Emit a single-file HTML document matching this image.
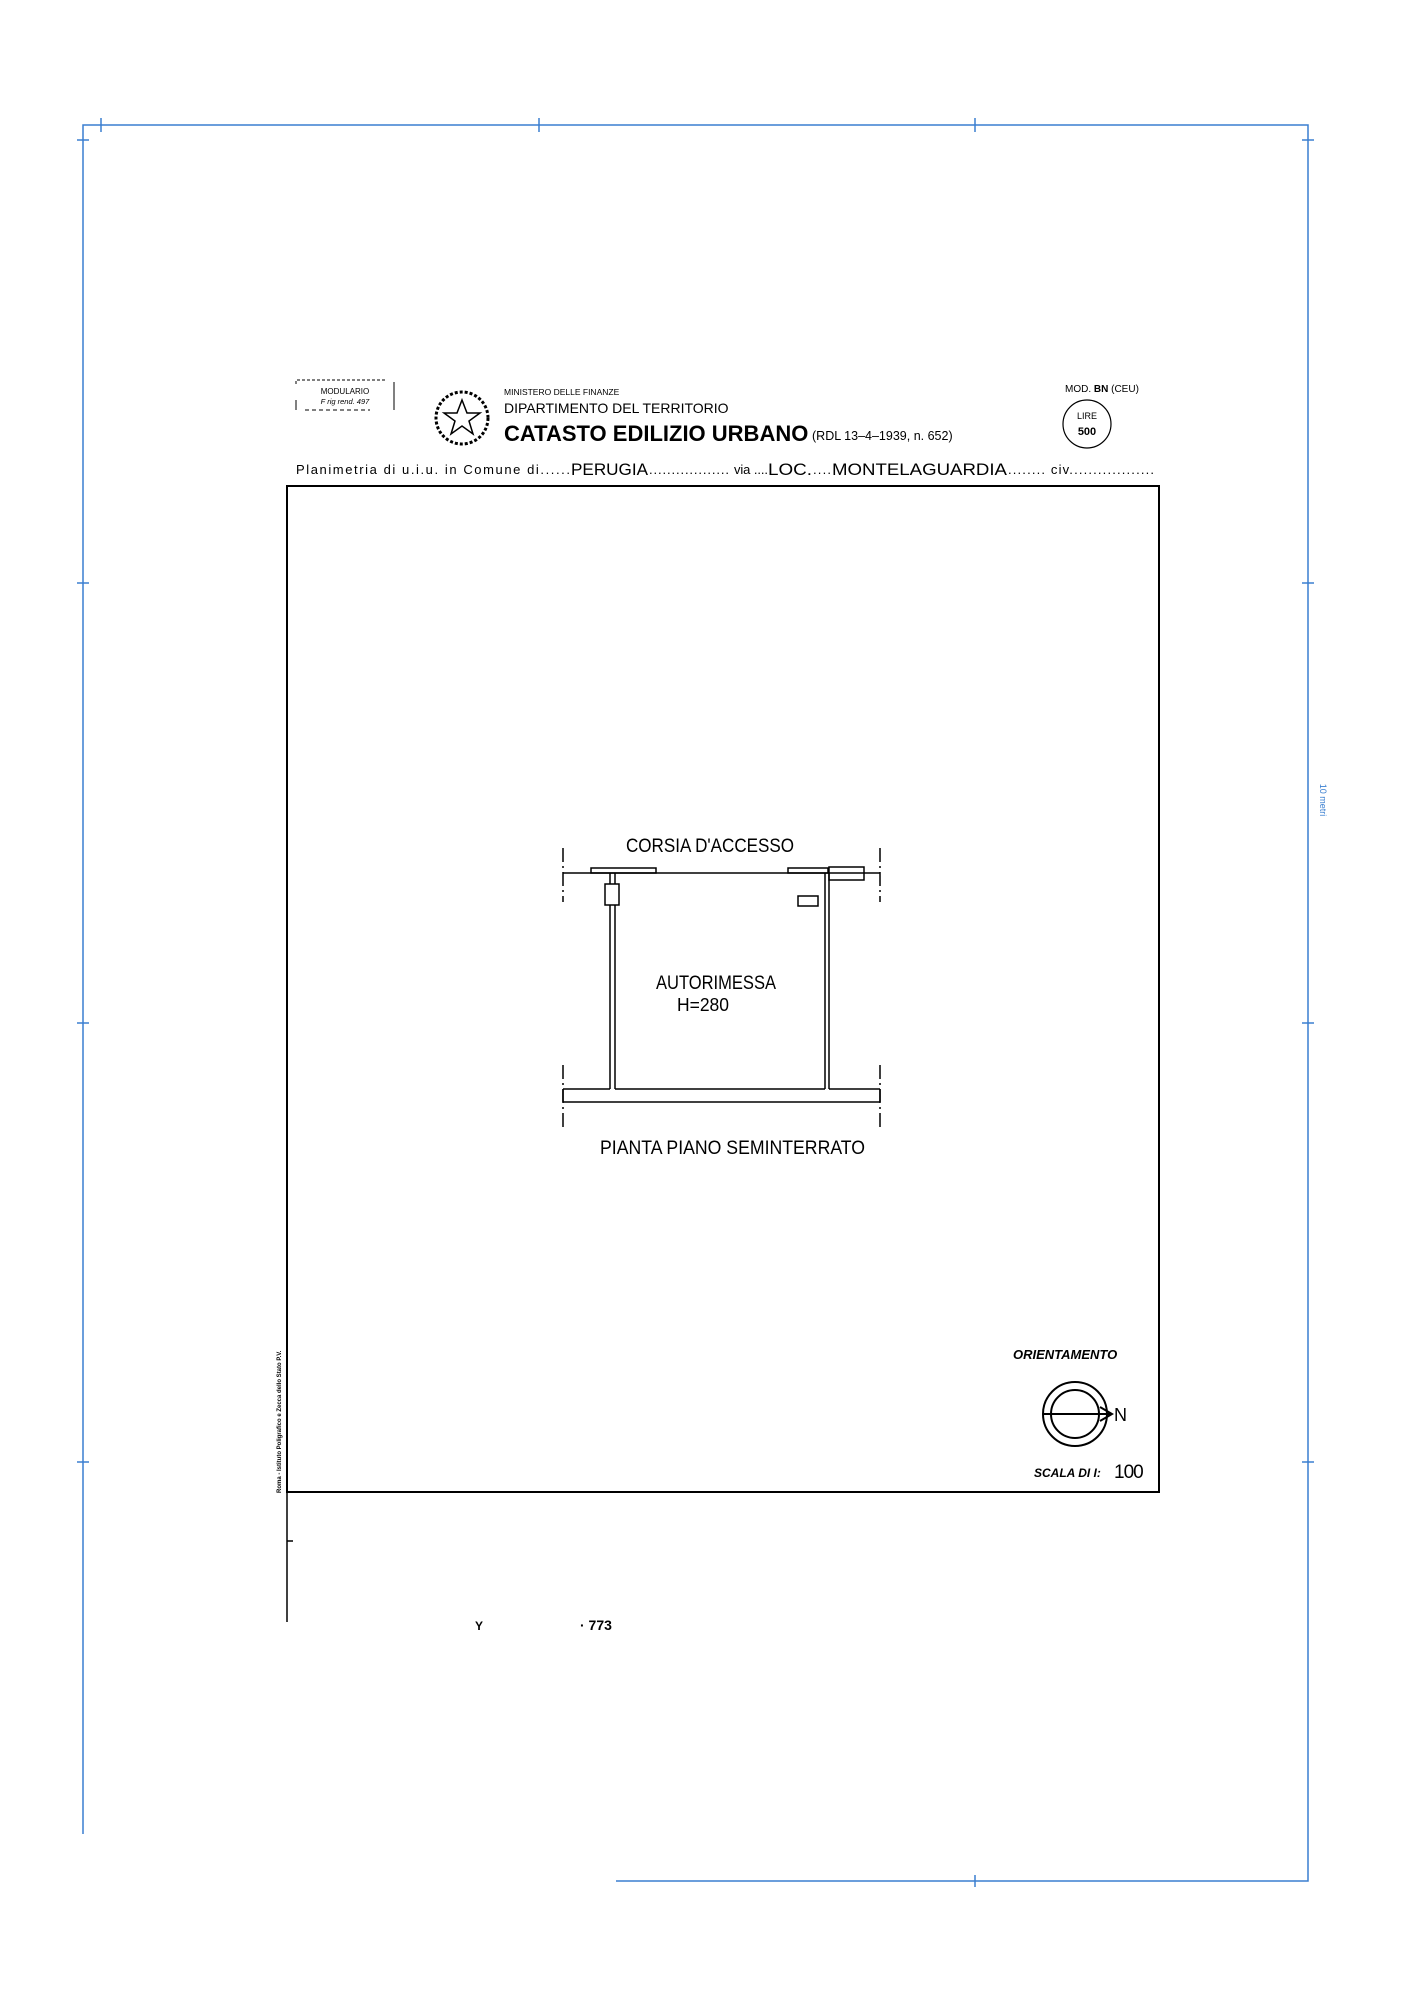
<!DOCTYPE html>
<html><head><meta charset="utf-8"><style>
html,body{margin:0;padding:0;background:#fff;}
svg{display:block}
text{font-family:"Liberation Sans",sans-serif;}
</style></head><body>
<svg width="1413" height="2000" viewBox="0 0 1413 2000" xmlns="http://www.w3.org/2000/svg">
<g stroke="#3a7fd0" stroke-width="1.5" fill="none">
<polyline points="83,1834 83,125 1308,125 1308,1881 616,1881"/>
<line x1="101" y1="118" x2="101" y2="132"/><line x1="539" y1="118" x2="539" y2="132"/><line x1="975" y1="118" x2="975" y2="132"/>
<line x1="77" y1="140" x2="89" y2="140"/><line x1="77" y1="583" x2="89" y2="583"/><line x1="77" y1="1023" x2="89" y2="1023"/><line x1="77" y1="1462" x2="89" y2="1462"/>
<line x1="1302" y1="140" x2="1314" y2="140"/><line x1="1302" y1="583" x2="1314" y2="583"/><line x1="1302" y1="1023" x2="1314" y2="1023"/><line x1="1302" y1="1462" x2="1314" y2="1462"/>
<line x1="975" y1="1875" x2="975" y2="1887"/>
</g>
<text x="1320" y="800" font-size="9" fill="#3a7fd0" transform="rotate(90 1320 800)" text-anchor="middle" font-family="Liberation Serif">10 metri</text>
<g stroke="#000" stroke-width="1" fill="none">
<polyline points="296,384 296,380 386,380" stroke-dasharray="3,2"/>
<line x1="296" y1="400" x2="296" y2="410"/>
<line x1="394" y1="382" x2="394" y2="410"/>
<line x1="305" y1="410" x2="370" y2="410" stroke-dasharray="4,3"/>
</g>
<text x="345" y="394" font-size="8" text-anchor="middle">MODULARIO</text>
<text x="345" y="404" font-size="7.5" text-anchor="middle" font-style="italic">F  rig  rend. 497</text>
<g stroke="#000" fill="none">
<circle cx="462" cy="418" r="26" stroke-width="3" stroke-dasharray="3,2"/>
<polygon points="462,400 467,413 480,413 469,421 473,434 462,426 451,434 455,421 444,413 457,413" stroke-width="1.5"/>
</g>
<text x="504" y="395" font-size="8.5">MINISTERO DELLE FINANZE</text>
<text x="504" y="413" font-size="14">DIPARTIMENTO DEL TERRITORIO</text>
<text x="504" y="441" font-size="22" font-weight="bold">CATASTO EDILIZIO URBANO</text>
<text x="812" y="440" font-size="12.5">(RDL 13–4–1939, n. 652)</text>
<text x="1065" y="392" font-size="10">MOD. <tspan font-weight="bold">BN</tspan> (CEU)</text>
<circle cx="1087" cy="424" r="24" stroke="#000" stroke-width="1.2" fill="none"/>
<text x="1087" y="419" font-size="9" text-anchor="middle">LIRE</text>
<text x="1087" y="435" font-size="11" font-weight="bold" text-anchor="middle">500</text>
<text x="296" y="474" font-size="13" textLength="274" lengthAdjust="spacing">Planimetria di u.i.u. in Comune di......</text>
<text x="571" y="475" font-size="17" textLength="77" lengthAdjust="spacingAndGlyphs">PERUGIA</text>
<text x="649" y="474" font-size="13" textLength="80" lengthAdjust="spacing">..................</text>
<text x="734" y="474" font-size="13" textLength="34" lengthAdjust="spacing">via ....</text>
<text x="768" y="475" font-size="17" textLength="44" lengthAdjust="spacingAndGlyphs">LOC.</text>
<text x="813" y="474" font-size="13" textLength="18" lengthAdjust="spacing">....</text>
<text x="832" y="475" font-size="17" textLength="175" lengthAdjust="spacingAndGlyphs">MONTELAGUARDIA</text>
<text x="1008" y="474" font-size="13" textLength="146" lengthAdjust="spacing">........ civ..................</text>
<g stroke="#000" fill="none">
<rect x="287" y="486" width="872" height="1006" stroke-width="2"/>
<line x1="287" y1="1492" x2="287" y2="1622" stroke-width="1.5"/>
<line x1="287" y1="1541" x2="293" y2="1541" stroke-width="1.5"/>
</g>
<text x="281" y="1493" font-size="6" font-weight="bold" transform="rotate(-90 281 1493)">Roma - Istituto Poligrafico e Zecca dello Stato  P.V.</text>
<text x="475" y="1630" font-size="12" font-weight="bold">Y</text>
<text x="580" y="1630" font-size="14" font-weight="bold">· 773</text>
<g stroke="#000" stroke-width="1.5" fill="none">
<line x1="563" y1="848" x2="563" y2="902" stroke-dasharray="14,4,2,4"/>
<line x1="880" y1="848" x2="880" y2="902" stroke-dasharray="14,4,2,4"/>
<line x1="563" y1="1065" x2="563" y2="1128" stroke-dasharray="14,4,2,4"/>
<line x1="880" y1="1065" x2="880" y2="1128" stroke-dasharray="14,4,2,4"/>
<line x1="563" y1="873" x2="880" y2="873"/>
<rect x="591" y="868" width="65" height="5"/>
<rect x="788" y="868" width="40" height="5"/>
<rect x="829" y="867" width="35" height="13"/>
<line x1="825" y1="873" x2="825" y2="1089"/>
<line x1="829" y1="873" x2="829" y2="1089"/>
<line x1="610" y1="873" x2="610" y2="1089"/>
<line x1="615" y1="873" x2="615" y2="1089"/>
<rect x="605" y="884" width="14" height="21" fill="#fff"/>
<rect x="798" y="896" width="20" height="10"/>
<line x1="563" y1="1089" x2="610" y2="1089"/>
<line x1="615" y1="1089" x2="825" y2="1089"/>
<line x1="829" y1="1089" x2="880" y2="1089"/>
<line x1="563" y1="1102" x2="880" y2="1102"/>
<line x1="563" y1="1089" x2="563" y2="1102"/>
<line x1="880" y1="1089" x2="880" y2="1102"/>
</g>
<g>
<text x="626" y="852" font-size="19" textLength="168" lengthAdjust="spacingAndGlyphs">CORSIA D'ACCESSO</text>
<text x="656" y="989" font-size="19" textLength="120" lengthAdjust="spacingAndGlyphs">AUTORIMESSA</text>
<text x="677" y="1011" font-size="18" textLength="52" lengthAdjust="spacingAndGlyphs">H=280</text>
<text x="600" y="1154" font-size="19" textLength="265" lengthAdjust="spacingAndGlyphs">PIANTA PIANO SEMINTERRATO</text>
</g>
<text x="1013" y="1359" font-size="13" font-weight="bold" font-style="italic">ORIENTAMENTO</text>
<g stroke="#000" stroke-width="2" fill="none">
<circle cx="1075" cy="1414" r="32"/>
<circle cx="1075" cy="1414" r="24"/>
<line x1="1043" y1="1414" x2="1112" y2="1414"/>
<polyline points="1100,1407 1112,1414 1100,1421"/>
</g>
<text x="1114" y="1421" font-size="18">N</text>
<text x="1034" y="1477" font-size="12" font-weight="bold" font-style="italic">SCALA DI I:</text>
<text x="1114" y="1478" font-size="19" letter-spacing="-1">100</text>
</svg>
</body></html>
